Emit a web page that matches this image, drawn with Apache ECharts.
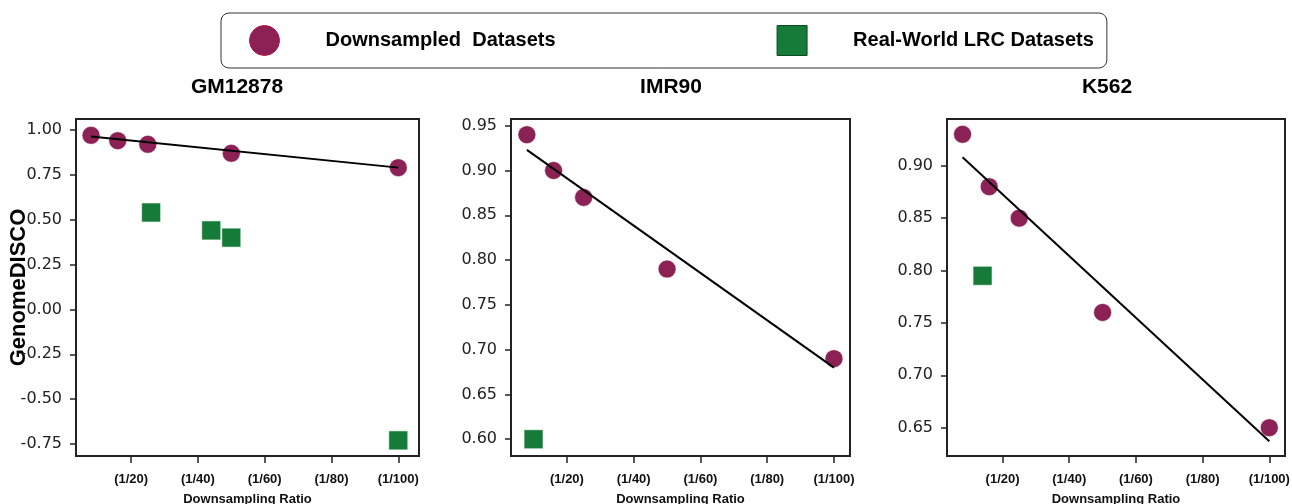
<!DOCTYPE html>
<html>
<head>
<meta charset="utf-8">
<script src="https://cdn.jsdelivr.net/npm/echarts@6/dist/echarts.min.js"></script>
<style>
  html, body { margin: 0; padding: 0; background: #fff; }
  #chart { width: 1292px; height: 504px; }
</style>
</head>
<body>
<div id="chart"></div>
<script>
// data (x = downsampling denominator)
const panels = ['GM12878', 'IMR90', 'K562'];
const downX = [8, 16, 25, 50, 100];
const gmDown = [0.97, 0.94, 0.92, 0.87, 0.79];
const imrDown = [0.94, 0.90, 0.87, 0.79, 0.69];
const k562Down = [0.93, 0.88, 0.85, 0.76, 0.65];

const gmRealX = [26, 44, 50, 100];
const gmReal = [0.54, 0.44, 0.40, -0.73];
const imrRealX = [10];
const imrReal = [0.60];
const k562RealX = [14];
const k562Real = [0.795];

// trend line ends
const fitX = [8, 100];
const gmFit = [0.963, 0.790];
const imrFit = [0.923, 0.680];
const k562Fit = [0.908, 0.637];

// ticks
const xTicks = [20, 40, 60, 80, 100];
const gmYTicks = [-0.75, -0.5, -0.25, 0, 0.25, 0.5, 0.75, 1.0];
const imrYTicks = [0.60, 0.65, 0.70, 0.75, 0.80, 0.85, 0.90, 0.95];
const k562YTicks = [0.65, 0.70, 0.75, 0.80, 0.85, 0.90];

const DOWN = 'Downsampled  Datasets';
const REAL = 'Real-World LRC Datasets';
const maroon = '#8b2154';
const green = '#167a38';

const downSets = [gmDown, imrDown, k562Down];
const realXs = [gmRealX, imrRealX, k562RealX];
const realSets = [gmReal, imrReal, k562Real];
const fits = [gmFit, imrFit, k562Fit];
const yTickSets = [gmYTicks, imrYTicks, k562YTicks];

const grids = [
  { left: 76, top: 119, width: 343, height: 337 },
  { left: 511, top: 119, width: 339, height: 337 },
  { left: 947, top: 119, width: 338, height: 337 }
];
const xLim = [[3.5, 106.2], [3.24, 104.8], [3.34, 104.7]];
const yLim = [[-0.817, 1.061], [0.5813, 0.9575], [0.623, 0.9446]];
const titleX = [232, 666, 1102];

const zip = (xs, ys) => xs.map((x, i) => [x, ys[i]]);

const chart = echarts.init(document.getElementById('chart'));

const xAxis = grids.map((g, i) => ({
  type: 'value',
  gridIndex: i,
  min: xLim[i][0],
  max: xLim[i][1],
  name: 'Downsampling Ratio',
  nameLocation: 'middle',
  nameGap: 37,
  nameMoveOverlap: false,
  nameTextStyle: { fontFamily: 'Liberation Sans', fontWeight: 'bold', fontSize: 13, color: '#111' },
  axisLine: { show: false, onZero: false },
  axisTick: { show: true, length: 7, customValues: xTicks, lineStyle: { color: '#222', width: 1.5 } },
  axisLabel: {
    customValues: xTicks,
    margin: 17,
    formatter: v => '(1/' + v + ')',
    fontFamily: 'Liberation Sans', fontWeight: 'bold', fontSize: 13, color: '#111'
  },
  splitLine: { show: false }
}));

const yAxis = grids.map((g, i) => ({
  type: 'value',
  gridIndex: i,
  min: yLim[i][0],
  max: yLim[i][1],
  name: i === 0 ? 'GenomeDISCO' : '',
  nameLocation: 'middle',
  nameRotate: 90,
  nameGap: 46,
  nameMoveOverlap: false,
  nameTextStyle: { fontFamily: 'Liberation Sans', fontWeight: 'bold', fontSize: 22, color: '#000' },
  axisLine: { show: false, onZero: false },
  axisTick: { show: true, length: 6, customValues: yTickSets[i], lineStyle: { color: '#222', width: 1.5 } },
  axisLabel: {
    customValues: yTickSets[i],
    margin: 14,
    formatter: v => v.toFixed(2),
    fontFamily: 'DejaVu Sans', fontSize: 16, color: '#222'
  },
  splitLine: { show: false }
}));

const series = [];
grids.forEach((g, i) => {
  series.push({
    name: DOWN, type: 'scatter', xAxisIndex: i, yAxisIndex: i,
    symbol: 'circle', symbolSize: 18, z: 2,
    itemStyle: { color: maroon, borderColor: '#fff', borderWidth: 0.6, opacity: 1 },
    data: zip(downX, downSets[i])
  });
  series.push({
    name: REAL, type: 'scatter', xAxisIndex: i, yAxisIndex: i,
    symbol: 'rect', symbolSize: 19, z: 2,
    itemStyle: { color: green, borderColor: '#fff', borderWidth: 0.6, opacity: 1 },
    data: zip(realXs[i], realSets[i])
  });
  series.push({
    name: 'fit' + i, type: 'line', xAxisIndex: i, yAxisIndex: i,
    showSymbol: false, symbol: 'none', z: 3, silent: true,
    lineStyle: { color: '#000', width: 2 },
    data: zip(fitX, fits[i])
  });
});

chart.setOption({
  animation: false,
  backgroundColor: '#fff',
  title: panels.map((p, i) => ({
    text: p,
    left: titleX[i],
    top: 72,
    textAlign: 'center',
    textStyle: { fontFamily: 'Liberation Sans', fontWeight: 'bold', fontSize: 21, color: '#000' }
  })),
  legend: {
    left: 221,
    top: 13,
    orient: 'horizontal',
    itemWidth: 30,
    itemHeight: 30,
    itemGap: 221,
    padding: [12, 13, 12, 28],
    borderColor: '#333',
    borderWidth: 1,
    borderRadius: 8,
    textStyle: {
      fontFamily: 'Liberation Sans', fontWeight: 'bold', fontSize: 20, color: '#000',
      padding: [0, 0, 0, 41]
    },
    data: [
      { name: DOWN, icon: 'circle', itemStyle: { color: maroon, borderColor: '#b8123c', borderWidth: 1 } },
      { name: REAL, icon: 'rect', itemStyle: { color: green, borderColor: '#0b4a22', borderWidth: 1 } }
    ]
  },
  grid: grids.map(g => Object.assign({
    show: true, borderColor: '#222', borderWidth: 2, backgroundColor: 'transparent',
    containLabel: false, outerBoundsMode: 'none'
  }, g)),
  xAxis: xAxis,
  yAxis: yAxis,
  series: series
});

window.addEventListener('resize', () => chart.resize());
</script>
</body>
</html>
